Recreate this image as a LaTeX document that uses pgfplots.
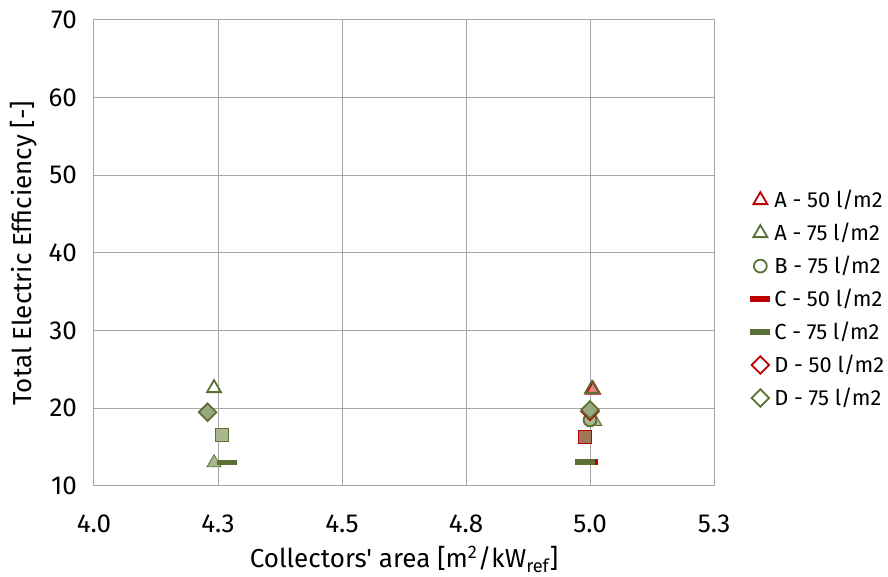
\documentclass[border=0pt]{standalone}
\usepackage{fontspec}
\setmainfont{Fira Sans}
\newfontfamily\plainfont{Fira Sans}
\usepackage{pgfplots}
\pgfplotsset{compat=1.18}
\definecolor{cred}{HTML}{C00000}
\definecolor{cgreen}{HTML}{5A7034}
\definecolor{lgreen}{HTML}{A9B690}
\definecolor{lred}{HTML}{E88080}
\definecolor{brownf}{HTML}{A07858}
\begin{document}
\begin{tikzpicture}
\begin{axis}[
  scale only axis,
  width=310pt, height=233pt,
  xmin=4.0, xmax=5.25, ymin=10, ymax=70,
  xtick={4.0,4.25,4.5,4.75,5.0,5.25},
  xticklabels={4.0,4.3,4.5,4.8,5.0,5.3},
  ytick={10,20,...,70},
  grid=major,
  major grid style={draw=gray!70, line width=0.5pt},
  axis line style={draw=gray!70, line width=0.5pt},
  tick style={draw=none},
  /pgf/number format/assume math mode=true,
  ticklabel style={font=\fontsize{13}{15}\selectfont},
  xticklabel style={yshift=-11pt},
  yticklabel style={xshift=-5pt},
  xlabel={\plainfont Collectors' area [m\textsuperscript{2}/kW\textsubscript{ref}]},
  ylabel={Total Electric Efficiency [-]},
  label style={font=\fontsize{13}{15}\selectfont},
  xlabel style={inner sep=0pt, yshift=-3pt},
  ylabel style={yshift=-1pt},
  legend style={at={(1.058,0.645)}, anchor=north west, draw=none, fill=none,
    font=\fontsize{10.9}{13}\selectfont, row sep=2.2pt, inner sep=0pt,
    cells={anchor=west}},
  legend cell align=left,
  legend image code/.code={\draw[#1, fill=white] plot coordinates {(0.2cm,0cm)};},
]
% squares (not in legend)
\addplot[only marks, mark=square*, mark size=3.2pt, draw=cgreen, fill=lgreen, forget plot] coordinates {(4.258,16.6)};
\addplot[only marks, mark=square*, mark size=3.2pt, draw=cred, fill=brownf, forget plot] coordinates {(4.99,16.3)};
% filled triangles (not in legend)
\addplot[only marks, mark=triangle*, mark size=4pt, draw=cgreen, fill=lgreen, forget plot] coordinates {(4.242,13.0)};
\addplot[only marks, mark=triangle*, mark size=4pt, draw=cgreen, fill=lgreen, forget plot] coordinates {(5.01,18.3)};
% legend series
\addplot[only marks, mark=triangle*, mark size=4pt, draw=cred, fill=lred, line width=0.9pt] coordinates {(5.006,22.4)};
\addlegendentry{A - 50 l/m2}
\addplot[only marks, mark=triangle, mark size=4pt, draw=cgreen, line width=0.9pt] coordinates {(4.242,22.6) (5.004,22.5)};
\addlegendentry{A - 75 l/m2}
\addplot[only marks, mark=*, mark size=3.2pt, draw=cgreen, fill=lgreen, line width=0.9pt] coordinates {(5.0,18.5)};
\addlegendentry{B - 75 l/m2}
\addplot[only marks, mark=-, mark size=5pt, draw=cred, line width=2.6pt] coordinates {(4.995,13.1)};
\addlegendentry{C - 50 l/m2}
\addplot[only marks, mark=-, mark size=5pt, draw=cgreen, line width=2.6pt] coordinates {(4.268,13.0) (4.99,13.1)};
\addlegendentry{C - 75 l/m2}
\addplot[only marks, mark=square*, mark options={rotate=45}, mark size=3.1pt, draw=cred, fill=lred, line width=0.9pt] coordinates {(5.0,19.6)};
\addlegendentry{D - 50 l/m2}
\addplot[only marks, mark=square*, mark options={rotate=45}, mark size=3.1pt, draw=cgreen, fill=lgreen!80!cgreen, line width=0.9pt] coordinates {(4.229,19.5) (5.0,19.8)};
\addlegendentry{D - 75 l/m2}
\path (rel axis cs:0,0) ++(-47pt,-45.5pt) coordinate (bl);
\path (rel axis cs:1,1) ++(87pt,10pt) coordinate (tr);
\end{axis}
\pgfresetboundingbox
\useasboundingbox (bl) rectangle (tr);
\end{tikzpicture}
\end{document}
